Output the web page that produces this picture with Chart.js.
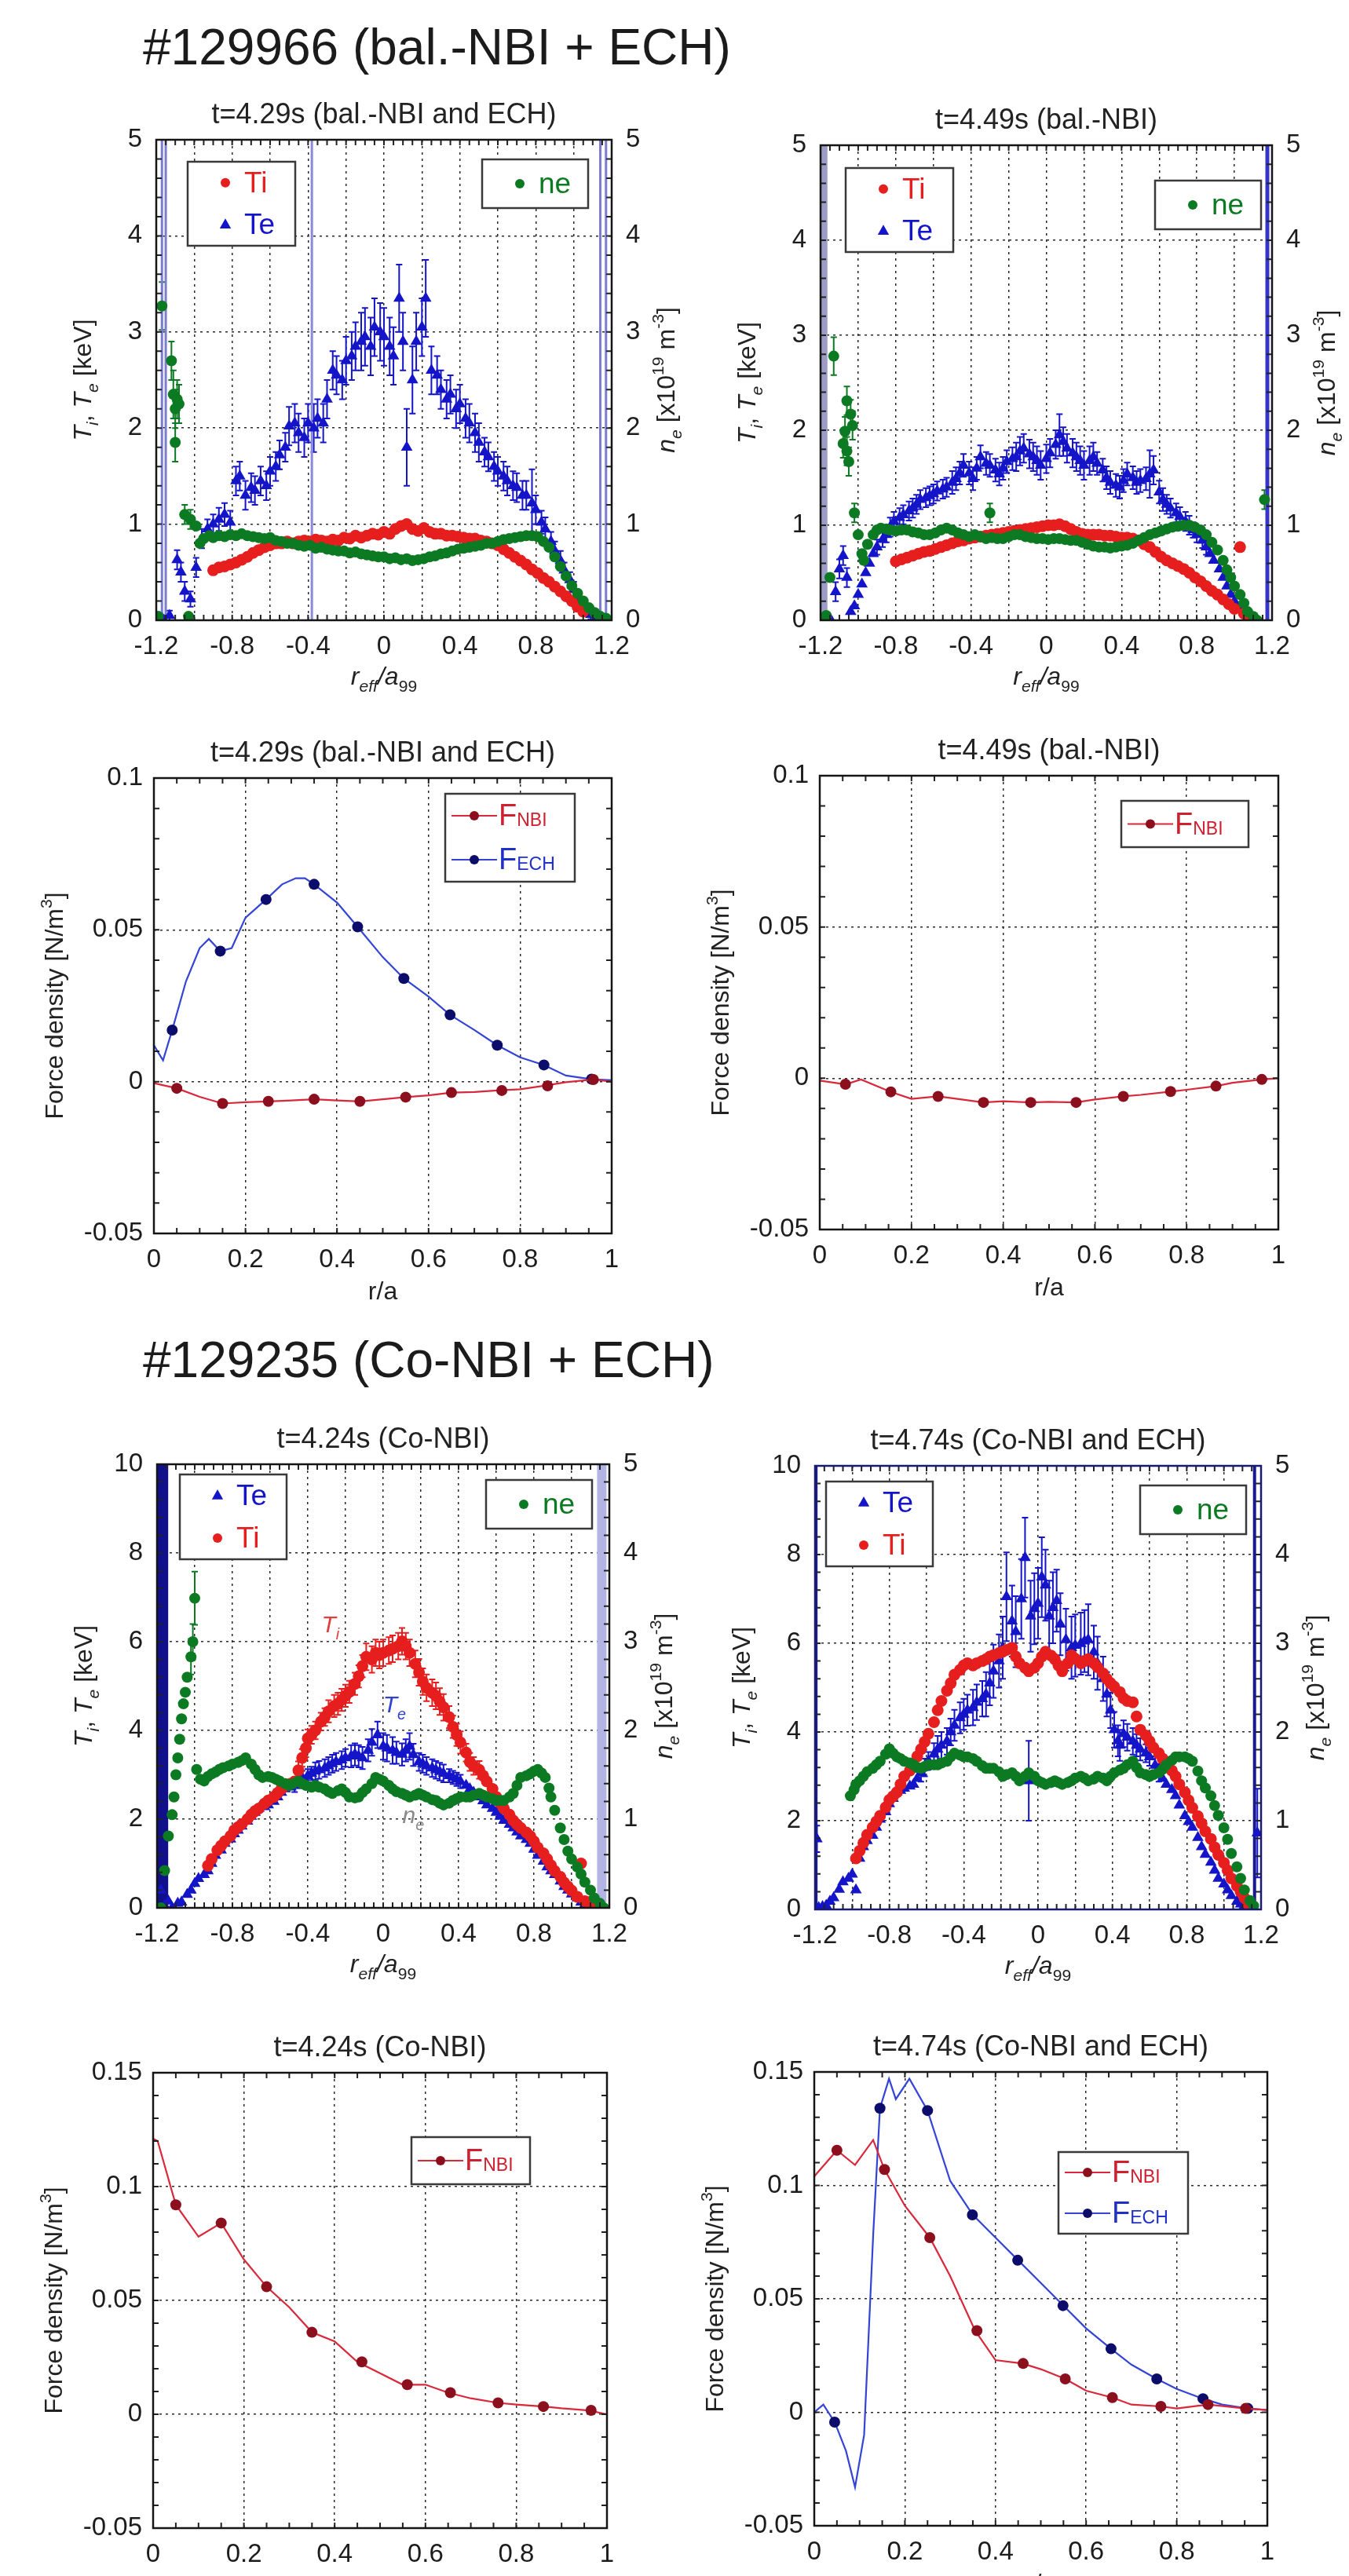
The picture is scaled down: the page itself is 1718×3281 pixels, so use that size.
<!DOCTYPE html>
<html>
<head>
<meta charset="utf-8">
<script src="https://cdn.jsdelivr.net/npm/chart.js@4.4.0/dist/chart.umd.min.js"></script>
<style>
  body { margin: 0; background: #fff; width: 1718px; height: 3281px; position: relative; overflow: hidden;
         font-family: 'Liberation Sans', Arial, Helvetica, sans-serif; }
  .hdr { position: absolute; left: 182px; font-size: 64px; line-height: 1; color: #1b1b1b; white-space: nowrap; }
  canvas { position: absolute; }
</style>
</head>
<body>
<div class="hdr" style="top:28px">#129966 (bal.-NBI + ECH)</div>
<div class="hdr" style="top:1700px">#129235 (Co-NBI + ECH)</div>
<canvas id="p1"></canvas>
<canvas id="p2"></canvas>
<canvas id="p3"></canvas>
<canvas id="p4"></canvas>
<canvas id="p5"></canvas>
<canvas id="p6"></canvas>
<canvas id="p7"></canvas>
<canvas id="p8"></canvas>
<script>
// ---- data: profiles are [r_eff/a99, value, error] ----
// t=4.29s (bal.-NBI and ECH)
const p1Te = [[-1.18,0.02,0.05],[-1.16,0.0,0.05],[-1.13,0.05,0.05],[-1.09,0.63,0.1],[-1.07,0.5,0.1],[-1.05,0.3,0.1],[-1.02,0.22,0.08],[-0.99,0.55,0.1],[-0.96,0.85,0.1],[-0.93,0.95,0.1],[-0.9,1.0,0.1],[-0.87,1.05,0.12],[-0.84,1.1,0.12],[-0.81,1.02,0.12],[-0.78,1.45,0.15],[-0.76,1.5,0.15],[-0.73,1.3,0.15],[-0.7,1.38,0.15],[-0.68,1.35,0.15],[-0.65,1.45,0.15],[-0.62,1.4,0.15],[-0.6,1.55,0.15],[-0.57,1.6,0.15],[-0.55,1.72,0.15],[-0.52,1.8,0.15],[-0.5,2.02,0.2],[-0.47,2.05,0.2],[-0.45,1.95,0.2],[-0.42,1.9,0.2],[-0.4,2.05,0.2],[-0.37,2.0,0.25],[-0.35,2.1,0.2],[-0.32,2.05,0.2],[-0.3,2.3,0.2],[-0.27,2.6,0.2],[-0.25,2.55,0.2],[-0.22,2.5,0.2],[-0.2,2.7,0.25],[-0.17,2.75,0.25],[-0.15,2.85,0.25],[-0.12,2.9,0.3],[-0.1,2.95,0.3],[-0.07,2.85,0.3],[-0.05,3.05,0.3],[-0.02,3.0,0.3],[0.0,2.95,0.3],[0.03,2.85,0.3],[0.05,2.75,0.3],[0.08,3.35,0.35],[0.1,2.9,0.3],[0.12,1.8,0.4],[0.15,2.5,0.35],[0.17,2.9,0.3],[0.2,3.05,0.3],[0.22,3.35,0.4],[0.25,2.6,0.25],[0.28,2.55,0.2],[0.3,2.4,0.2],[0.33,2.3,0.2],[0.35,2.35,0.2],[0.38,2.2,0.2],[0.4,2.25,0.2],[0.43,2.1,0.2],[0.45,2.05,0.2],[0.48,1.95,0.2],[0.5,1.85,0.2],[0.53,1.75,0.15],[0.55,1.7,0.15],[0.58,1.6,0.15],[0.6,1.55,0.15],[0.63,1.5,0.15],[0.65,1.45,0.15],[0.68,1.4,0.15],[0.7,1.38,0.15],[0.73,1.3,0.15],[0.75,1.3,0.15],[0.78,1.22,0.35],[0.8,1.15,0.15],[0.83,1.02,0.12],[0.85,0.95,0.12],[0.88,0.82,0.1],[0.9,0.72,0.1],[0.93,0.62,0.1],[0.95,0.52,0.08],[0.98,0.42,0.08],[1.0,0.32,0.08],[1.03,0.22,0.06],[1.06,0.13,0.05],[1.09,0.06,0.05],[1.12,0.02,0.04],[1.15,0.0,0.04]];
const p1Ti = [[-0.9,0.52],[-0.87,0.55],[-0.84,0.56],[-0.81,0.58],[-0.78,0.6],[-0.75,0.63],[-0.72,0.66],[-0.69,0.7],[-0.66,0.73],[-0.63,0.76],[-0.6,0.78],[-0.57,0.8],[-0.54,0.8],[-0.51,0.82],[-0.48,0.8],[-0.45,0.82],[-0.42,0.83],[-0.39,0.82],[-0.36,0.84],[-0.33,0.83],[-0.3,0.82],[-0.27,0.84],[-0.24,0.83],[-0.21,0.86],[-0.18,0.85],[-0.15,0.88],[-0.12,0.86],[-0.09,0.88],[-0.06,0.9],[-0.03,0.89],[0,0.92],[0.03,0.9],[0.06,0.95],[0.09,0.98],[0.12,1.0],[0.15,0.95],[0.18,0.93],[0.21,0.96],[0.24,0.92],[0.27,0.9],[0.3,0.9],[0.33,0.88],[0.36,0.88],[0.39,0.87],[0.42,0.86],[0.45,0.85],[0.48,0.85],[0.51,0.83],[0.54,0.82],[0.57,0.8],[0.6,0.78],[0.63,0.74],[0.66,0.7],[0.69,0.66],[0.72,0.62],[0.75,0.58],[0.78,0.53],[0.81,0.49],[0.84,0.44],[0.87,0.4],[0.9,0.35],[0.93,0.3],[0.96,0.25],[0.99,0.2],[1.02,0.14],[1.05,0.09]];
const p1Ne = [[-1.19,0.04],[-1.17,3.27,0.25],[-1.12,2.7,0.2],[-1.11,2.35,0.25],[-1.1,2.2,0.2],[-1.09,2.3,0.2],[-1.1,1.85,0.2],[-1.08,2.25,0.2],[-1.05,1.1,0.1],[-1.03,0.04],[-1.02,1.05,0.1],[-0.99,0.98],[-0.97,0.8],[-0.95,0.85],[-0.92,0.88],[-0.9,0.86],[-0.87,0.88],[-0.84,0.87],[-0.81,0.89],[-0.78,0.88],[-0.75,0.9],[-0.72,0.88],[-0.69,0.87],[-0.66,0.86],[-0.63,0.85],[-0.6,0.86],[-0.57,0.83],[-0.54,0.82],[-0.51,0.8],[-0.48,0.8],[-0.45,0.78],[-0.42,0.77],[-0.39,0.78],[-0.36,0.75],[-0.33,0.76],[-0.3,0.74],[-0.27,0.73],[-0.24,0.72],[-0.21,0.72],[-0.18,0.7],[-0.15,0.71],[-0.12,0.69],[-0.09,0.68],[-0.06,0.67],[-0.03,0.66],[0,0.66],[0.03,0.64],[0.06,0.65],[0.09,0.63],[0.12,0.64],[0.15,0.62],[0.18,0.63],[0.21,0.64],[0.24,0.66],[0.27,0.67],[0.3,0.69],[0.33,0.7],[0.36,0.72],[0.39,0.74],[0.42,0.75],[0.45,0.76],[0.48,0.77],[0.51,0.78],[0.54,0.8],[0.57,0.8],[0.6,0.82],[0.63,0.84],[0.66,0.85],[0.69,0.86],[0.72,0.87],[0.75,0.88],[0.78,0.88],[0.81,0.87],[0.84,0.82],[0.87,0.76],[0.9,0.66],[0.93,0.56],[0.96,0.46],[0.99,0.36],[1.02,0.28],[1.05,0.2],[1.08,0.13],[1.11,0.08],[1.14,0.04],[1.17,0.02]];
const p1Lines = [-1.17, -1.15, -0.38, 1.14, 1.17];

// t=4.49s (bal.-NBI)
const p2Te = [[-1.18,0],[-1.15,0.02],[-1.12,0.3,0.1],[-1.1,0.54,0.1],[-1.08,0.68,0.1],[-1.06,0.45,0.1],[-1.04,0.09],[-1.02,0.15],[-1.0,0.27],[-0.98,0.38],[-0.96,0.5],[-0.94,0.6],[-0.92,0.7],[-0.9,0.77,0.08],[-0.87,0.85,0.08],[-0.85,0.9,0.08],[-0.83,0.98,0.1],[-0.81,1.04,0.1],[-0.78,1.08,0.1],[-0.76,1.11,0.1],[-0.73,1.15,0.1],[-0.71,1.18,0.1],[-0.69,1.22,0.1],[-0.67,1.27,0.1],[-0.64,1.29,0.1],[-0.62,1.31,0.1],[-0.6,1.33,0.1],[-0.58,1.36,0.1],[-0.55,1.38,0.1],[-0.53,1.4,0.1],[-0.5,1.45,0.12],[-0.48,1.49,0.12],[-0.46,1.55,0.12],[-0.44,1.63,0.12],[-0.41,1.55,0.12],[-0.39,1.49,0.12],[-0.37,1.6,0.12],[-0.35,1.72,0.12],[-0.32,1.65,0.12],[-0.3,1.63,0.12],[-0.27,1.58,0.12],[-0.25,1.54,0.12],[-0.23,1.6,0.12],[-0.21,1.67,0.12],[-0.18,1.7,0.12],[-0.16,1.72,0.15],[-0.14,1.78,0.15],[-0.12,1.81,0.15],[-0.09,1.75,0.15],[-0.07,1.72,0.15],[-0.05,1.68,0.15],[-0.03,1.63,0.15],[0.0,1.7,0.15],[0.02,1.76,0.15],[0.05,1.85,0.15],[0.07,1.95,0.22],[0.09,1.88,0.15],[0.11,1.81,0.15],[0.14,1.76,0.15],[0.16,1.72,0.15],[0.18,1.68,0.15],[0.2,1.63,0.15],[0.23,1.68,0.15],[0.25,1.72,0.15],[0.27,1.65,0.12],[0.3,1.58,0.12],[0.32,1.5,0.12],[0.34,1.45,0.12],[0.37,1.42,0.12],[0.39,1.4,0.12],[0.41,1.47,0.12],[0.43,1.54,0.12],[0.46,1.5,0.12],[0.48,1.45,0.12],[0.5,1.47,0.12],[0.53,1.49,0.12],[0.55,1.54,0.25],[0.57,1.58,0.15],[0.6,1.35,0.12],[0.62,1.27,0.12],[0.64,1.22,0.1],[0.66,1.18,0.1],[0.69,1.13,0.1],[0.71,1.09,0.1],[0.74,1.04,0.1],[0.76,1.0,0.1],[0.78,0.95,0.08],[0.8,0.9,0.08],[0.83,0.84,0.08],[0.85,0.77,0.08],[0.87,0.7],[0.89,0.63],[0.92,0.54],[0.94,0.45],[0.96,0.36],[0.98,0.27],[1.0,0.2],[1.03,0.14],[1.05,0.09],[1.07,0.05],[1.1,0.02],[1.12,0]];
const p2Ti = [[-0.8,0.62],[-0.77,0.64],[-0.74,0.66],[-0.71,0.68],[-0.68,0.7],[-0.65,0.72],[-0.62,0.73],[-0.59,0.75],[-0.56,0.77],[-0.53,0.79],[-0.5,0.81],[-0.47,0.83],[-0.44,0.84],[-0.41,0.86],[-0.38,0.87],[-0.35,0.88],[-0.32,0.89],[-0.29,0.9],[-0.26,0.91],[-0.23,0.92],[-0.2,0.93],[-0.17,0.94],[-0.14,0.95],[-0.11,0.96],[-0.08,0.97],[-0.05,0.98],[-0.02,0.99],[0.01,1.0],[0.04,1.0],[0.07,1.01],[0.1,0.99],[0.13,0.96],[0.16,0.93],[0.19,0.91],[0.22,0.9],[0.25,0.9],[0.28,0.9],[0.31,0.89],[0.34,0.89],[0.37,0.88],[0.4,0.87],[0.43,0.87],[0.46,0.86],[0.49,0.84],[0.52,0.8],[0.55,0.77],[0.58,0.72],[0.61,0.67],[0.64,0.63],[0.67,0.6],[0.7,0.57],[0.73,0.54],[0.76,0.5],[0.79,0.45],[0.82,0.41],[0.85,0.36],[0.88,0.31],[0.91,0.27],[0.94,0.22],[0.97,0.17],[1.0,0.12],[1.03,0.77],[1.05,0.07],[1.08,0.03]];
const p2Ne = [[-1.17,0.05],[-1.15,0.45],[-1.13,2.78,0.2],[-1.08,1.86,0.15],[-1.07,1.99,0.15],[-1.06,2.31,0.15],[-1.05,1.67,0.15],[-1.04,2.17,0.15],[-1.06,1.78,0.15],[-1.03,2.05,0.15],[-1.02,1.13,0.1],[-1.0,0.9],[-0.98,0.7],[-0.97,0.63],[-0.95,0.8],[-0.92,0.9],[-0.9,0.95],[-0.88,0.97],[-0.85,0.96],[-0.83,0.95],[-0.8,0.94],[-0.77,0.95],[-0.74,0.95],[-0.71,0.93],[-0.68,0.92],[-0.65,0.9],[-0.62,0.9],[-0.59,0.92],[-0.56,0.95],[-0.53,0.97],[-0.5,0.95],[-0.47,0.92],[-0.44,0.9],[-0.41,0.88],[-0.38,0.9],[-0.3,1.13,0.1],[-0.35,0.88],[-0.32,0.86],[-0.29,0.87],[-0.26,0.86],[-0.23,0.86],[-0.2,0.88],[-0.17,0.9],[-0.14,0.9],[-0.11,0.88],[-0.08,0.87],[-0.05,0.86],[-0.02,0.86],[0.01,0.85],[0.04,0.86],[0.07,0.86],[0.1,0.85],[0.13,0.84],[0.16,0.84],[0.19,0.82],[0.22,0.8],[0.25,0.78],[0.28,0.77],[0.31,0.77],[0.34,0.76],[0.37,0.77],[0.4,0.78],[0.43,0.79],[0.46,0.81],[0.49,0.84],[0.52,0.87],[0.55,0.9],[0.58,0.92],[0.61,0.94],[0.64,0.96],[0.67,0.98],[0.7,0.99],[0.73,1.0],[0.76,1.0],[0.79,0.98],[0.82,0.95],[0.85,0.9],[0.88,0.82],[0.91,0.74],[0.94,0.63],[0.96,0.53],[0.98,0.45],[1.0,0.36],[1.03,0.27],[1.05,0.18],[1.07,0.09],[1.1,0.04],[1.12,0],[1.16,1.27,0.1]];
const p2Lines = [-1.18, 1.175];

// t=4.24s (Co-NBI)
const p5Te = [[-1.18,0.4],[-1.16,0.05],[-1.14,0.15],[-1.12,0],[-1.09,0.1],[-1.07,0.13],[-1.04,0.3],[-1.02,0.4],[-1.0,0.55],[-0.98,0.66],[-0.95,0.75],[-0.93,0.83],[-0.91,1.0],[-0.89,1.18],[-0.86,1.3],[-0.84,1.45],[-0.81,1.55],[-0.79,1.67],[-0.77,1.75],[-0.75,1.84],[-0.72,1.95],[-0.7,2.06],[-0.68,2.15],[-0.66,2.24],[-0.63,2.28],[-0.61,2.32],[-0.58,2.4],[-0.56,2.5],[-0.54,2.6],[-0.52,2.68],[-0.49,2.72],[-0.47,2.76,0.15],[-0.45,2.85,0.15],[-0.43,2.94,0.15],[-0.4,2.98,0.15],[-0.38,3.03,0.15],[-0.36,3.08,0.2],[-0.34,3.11,0.2],[-0.31,3.15,0.2],[-0.29,3.2,0.2],[-0.27,3.25,0.2],[-0.25,3.29,0.2],[-0.22,3.33,0.2],[-0.2,3.38,0.2],[-0.17,3.42,0.25],[-0.15,3.46,0.25],[-0.13,3.42,0.25],[-0.11,3.38,0.25],[-0.08,3.55,0.25],[-0.06,3.73,0.3],[-0.03,3.9,0.3],[0,3.64,0.3],[0.02,3.6,0.3],[0.05,3.55,0.3],[0.07,3.5,0.25],[0.1,3.46,0.25],[0.12,3.55,0.25],[0.14,3.64,0.3],[0.16,3.45,0.25],[0.19,3.29,0.2],[0.21,3.25,0.2],[0.23,3.2,0.2],[0.26,3.15,0.2],[0.28,3.11,0.2],[0.3,3.07,0.2],[0.32,3.03,0.2],[0.35,2.98,0.15],[0.37,2.94,0.15],[0.39,2.9,0.15],[0.41,2.85,0.15],[0.44,2.76],[0.46,2.68],[0.48,2.6],[0.51,2.5],[0.53,2.41],[0.55,2.32],[0.58,2.24],[0.6,2.15],[0.62,2.06],[0.64,1.97],[0.67,1.88],[0.69,1.8],[0.71,1.71],[0.73,1.62],[0.76,1.54],[0.78,1.45],[0.8,1.32],[0.82,1.18],[0.85,1.05],[0.87,0.92],[0.89,0.83],[0.91,0.75],[0.94,0.6],[0.96,0.48],[0.98,0.4],[1.0,0.31],[1.03,0.22],[1.05,0.13],[1.07,0.08],[1.09,0.04],[1.12,0.02],[1.15,0]];
const p5Ti = [[-0.93,0.95],[-0.91,1.1],[-0.88,1.3],[-0.86,1.4],[-0.84,1.5],[-0.81,1.62],[-0.79,1.75],[-0.77,1.82],[-0.75,1.89],[-0.72,2.0],[-0.7,2.1],[-0.68,2.18],[-0.66,2.24],[-0.63,2.35],[-0.61,2.42],[-0.58,2.5],[-0.56,2.59],[-0.54,2.68],[-0.51,2.76],[-0.49,2.8],[-0.47,2.85],[-0.45,3.1,0.2],[-0.43,3.38,0.2],[-0.41,3.6,0.2],[-0.4,3.82,0.2],[-0.38,3.9,0.2],[-0.36,4.0,0.2],[-0.33,4.2,0.2],[-0.31,4.3,0.2],[-0.29,4.43,0.25],[-0.26,4.55,0.25],[-0.24,4.6,0.25],[-0.22,4.69,0.25],[-0.2,4.78,0.25],[-0.18,4.87,0.25],[-0.15,5.05,0.25],[-0.13,5.22,0.25],[-0.11,5.45,0.25],[-0.09,5.66,0.3],[-0.06,5.6,0.3],[-0.04,5.75,0.3],[-0.02,5.7,0.3],[0,5.75,0.3],[0.03,5.8,0.3],[0.05,5.84,0.3],[0.08,5.9,0.3],[0.1,6.01,0.3],[0.12,5.9,0.3],[0.14,5.75,0.3],[0.17,5.5,0.3],[0.19,5.31,0.3],[0.21,5.1,0.3],[0.23,4.96,0.3],[0.26,4.85,0.3],[0.28,4.78,0.3],[0.3,4.65,0.3],[0.32,4.52,0.3],[0.35,4.3,0.25],[0.37,4.08,0.25],[0.39,3.9,0.25],[0.41,3.73,0.25],[0.44,3.5,0.2],[0.46,3.29,0.2],[0.48,3.2,0.2],[0.51,3.11,0.2],[0.53,2.98],[0.55,2.85],[0.58,2.68],[0.6,2.5],[0.62,2.37],[0.64,2.24],[0.67,2.1],[0.69,1.97],[0.71,1.88],[0.73,1.8],[0.76,1.7],[0.78,1.62],[0.8,1.5],[0.82,1.36],[0.85,1.23],[0.87,1.1],[0.89,0.96],[0.91,0.83],[0.94,0.7],[0.96,0.57],[0.98,0.48],[1.0,0.39],[1.03,0.25],[1.05,1.0],[1.07,0.15],[1.09,0.13],[1.12,0.08],[1.14,0.04]];
const p5Ne = [[-1.18,0.0],[-1.16,0.42],[-1.14,0.81],[-1.12,1.05],[-1.11,1.25],[-1.1,1.5],[-1.09,1.69],[-1.08,1.9],[-1.07,2.13],[-1.06,2.3],[-1.05,2.43],[-1.04,2.6],[-1.02,2.83,0.2],[-1.01,3.0,0.2],[-1.0,3.49,0.3],[-0.99,1.56],[-0.97,1.45],[-0.95,1.43],[-0.93,1.48],[-0.91,1.51],[-0.89,1.53],[-0.87,1.56],[-0.85,1.58],[-0.82,1.6],[-0.8,1.62],[-0.77,1.64],[-0.75,1.66],[-0.73,1.69],[-0.7,1.62],[-0.68,1.56],[-0.66,1.5],[-0.64,1.47],[-0.61,1.48],[-0.59,1.47],[-0.57,1.45],[-0.55,1.43],[-0.52,1.4],[-0.5,1.38],[-0.48,1.4],[-0.45,1.43],[-0.43,1.4],[-0.41,1.38],[-0.38,1.36],[-0.36,1.38],[-0.34,1.36],[-0.31,1.34],[-0.29,1.31],[-0.27,1.29],[-0.24,1.32],[-0.22,1.34],[-0.2,1.3],[-0.18,1.25],[-0.15,1.24],[-0.13,1.25],[-0.11,1.3],[-0.09,1.34],[-0.06,1.4],[-0.04,1.47],[-0.02,1.45],[0,1.43],[0.03,1.38],[0.05,1.34],[0.07,1.31],[0.1,1.29],[0.12,1.27],[0.14,1.25],[0.17,1.27],[0.19,1.29],[0.21,1.27],[0.23,1.25],[0.26,1.22],[0.28,1.21],[0.3,1.18],[0.32,1.16],[0.35,1.18],[0.37,1.21],[0.39,1.23],[0.41,1.25],[0.44,1.25],[0.46,1.25],[0.48,1.27],[0.51,1.29],[0.53,1.27],[0.55,1.25],[0.58,1.23],[0.6,1.21],[0.62,1.21],[0.64,1.21],[0.67,1.25],[0.69,1.29],[0.71,1.38],[0.73,1.47],[0.76,1.49],[0.78,1.51],[0.8,1.54],[0.82,1.56],[0.84,1.52],[0.86,1.47],[0.88,1.35],[0.89,1.25],[0.91,1.1],[0.94,0.9],[0.96,0.77],[0.98,0.64],[1.0,0.55],[1.03,0.46],[1.05,0.38],[1.07,0.29],[1.1,0.2],[1.12,0.11],[1.15,0.05],[1.17,0]];
const p5Lines = [-1.17, 1.16];

// t=4.74s (Co-NBI and ECH)
const p6Te = [[-1.19,1.59,0.3],[-1.18,0.04],[-1.16,0.06],[-1.14,0.09],[-1.12,0.18],[-1.1,0.26],[-1.07,0.45],[-1.05,0.62],[-1.02,0.7],[-1.0,0.79],[-0.98,0.44],[-0.96,1.15],[-0.94,1.41],[-0.92,1.55],[-0.89,1.67],[-0.87,1.85],[-0.85,2.03],[-0.82,2.2],[-0.8,2.38],[-0.78,2.5],[-0.76,2.64],[-0.74,2.68],[-0.72,2.73],[-0.69,2.78],[-0.67,2.82],[-0.65,2.95],[-0.63,3.08,0.2],[-0.61,3.2,0.2],[-0.59,3.35,0.2],[-0.56,3.5,0.25],[-0.54,3.61,0.3],[-0.52,3.7,0.3],[-0.49,3.79,0.3],[-0.47,4.0,0.3],[-0.45,4.15,0.35],[-0.42,4.32,0.35],[-0.4,4.4,0.35],[-0.38,4.49,0.35],[-0.35,4.55,0.4],[-0.33,4.67,0.4],[-0.3,4.75,0.4],[-0.28,4.85,0.5],[-0.26,5.1,0.5],[-0.24,5.37,0.6],[-0.21,5.6,0.6],[-0.19,5.9,0.7],[-0.17,7.05,1.0],[-0.14,6.5,0.8],[-0.12,6.26,0.8],[-0.09,7.0,0.9],[-0.07,7.93,0.9],[-0.05,2.9,0.9],[-0.04,6.61,0.8],[-0.02,6.78,0.8],[0.0,6.9,0.8],[0.02,7.49,0.9],[0.04,7.31,0.8],[0.06,6.61,0.8],[0.08,6.8,0.8],[0.1,6.96,0.7],[0.12,6.43,0.7],[0.15,6.08,0.7],[0.18,5.9,0.7],[0.2,5.95,0.7],[0.23,5.99,0.7],[0.25,6.05,0.7],[0.27,6.08,0.8],[0.3,5.8,0.6],[0.32,5.55,0.6],[0.35,5.2,0.5],[0.37,4.85,0.5],[0.39,4.49,0.4],[0.41,4.05,0.4],[0.43,3.8,0.35],[0.44,3.7,0.35],[0.46,3.96,0.3],[0.48,3.88,0.3],[0.51,3.79,0.3],[0.53,3.7,0.25],[0.55,3.61,0.25],[0.58,3.52,0.2],[0.6,3.44,0.2],[0.63,3.25,0.2],[0.65,3.08,0.2],[0.67,2.95],[0.69,2.82],[0.72,2.7],[0.74,2.56],[0.76,2.35],[0.79,2.11],[0.81,1.98],[0.83,1.85],[0.86,1.62],[0.88,1.41],[0.9,1.24],[0.93,1.06],[0.95,0.88],[0.97,0.7],[1.0,0.57],[1.02,0.44],[1.04,0.31],[1.07,0.18],[1.09,0.12],[1.11,0.09],[1.14,0.04],[1.16,0],[1.18,1.72,1.0]];
const p6Ti = [[-0.98,1.15],[-0.96,1.32],[-0.94,1.5],[-0.92,1.68],[-0.89,1.85],[-0.87,1.98],[-0.85,2.11],[-0.82,2.3],[-0.8,2.47],[-0.78,2.55],[-0.76,2.64],[-0.74,2.82],[-0.72,3.0],[-0.69,3.13],[-0.67,3.26],[-0.65,3.45],[-0.63,3.61],[-0.61,3.78],[-0.59,3.96],[-0.56,4.22],[-0.54,4.49],[-0.52,4.7],[-0.49,4.93],[-0.47,5.1],[-0.45,5.29],[-0.42,5.4],[-0.4,5.5],[-0.38,5.55],[-0.35,5.5],[-0.33,5.55],[-0.3,5.6],[-0.28,5.64],[-0.26,5.7],[-0.24,5.73],[-0.21,5.78],[-0.19,5.81],[-0.17,5.85],[-0.14,5.9],[-0.12,5.7],[-0.1,5.55],[-0.07,5.45],[-0.05,5.37],[-0.02,5.45],[0.0,5.55],[0.02,5.7],[0.04,5.81],[0.07,5.72],[0.09,5.64],[0.11,5.5],[0.13,5.37],[0.16,5.55],[0.18,5.73],[0.2,5.65],[0.23,5.55],[0.25,5.6],[0.27,5.64],[0.3,5.55],[0.32,5.46],[0.35,5.32],[0.37,5.2],[0.39,5.1],[0.41,5.02],[0.44,4.9],[0.46,4.76],[0.48,4.7],[0.51,4.67],[0.53,4.35],[0.55,4.05],[0.58,3.92],[0.6,3.79],[0.62,3.65],[0.65,3.52],[0.67,3.4],[0.69,3.26],[0.72,3.13],[0.74,3.0],[0.76,2.82],[0.79,2.64],[0.81,2.46],[0.83,2.29],[0.86,2.1],[0.88,1.94],[0.9,1.76],[0.93,1.59],[0.95,1.4],[0.97,1.23],[1.0,1.05],[1.02,0.88],[1.04,0.7],[1.07,0.53],[1.09,0.4],[1.11,0.26],[1.13,0.12],[1.15,0]];
const p6Ne = [[-1.01,1.28],[-0.99,1.35],[-0.98,1.41],[-0.96,1.45],[-0.94,1.5],[-0.92,1.55],[-0.89,1.59],[-0.87,1.63],[-0.85,1.67],[-0.82,1.75],[-0.8,1.81],[-0.78,1.76],[-0.76,1.72],[-0.74,1.7],[-0.72,1.67],[-0.69,1.65],[-0.67,1.63],[-0.65,1.6],[-0.63,1.59],[-0.61,1.61],[-0.59,1.63],[-0.56,1.63],[-0.54,1.63],[-0.52,1.65],[-0.49,1.67],[-0.47,1.72],[-0.45,1.76],[-0.42,1.74],[-0.4,1.72],[-0.38,1.72],[-0.35,1.7],[-0.33,1.67],[-0.3,1.62],[-0.28,1.59],[-0.26,1.59],[-0.24,1.59],[-0.21,1.55],[-0.19,1.5],[-0.17,1.52],[-0.14,1.54],[-0.12,1.5],[-0.1,1.45],[-0.07,1.5],[-0.05,1.54],[-0.02,1.5],[0.0,1.45],[0.02,1.43],[0.04,1.41],[0.07,1.43],[0.09,1.45],[0.11,1.43],[0.13,1.41],[0.16,1.43],[0.18,1.45],[0.2,1.48],[0.23,1.5],[0.25,1.48],[0.27,1.45],[0.3,1.47],[0.32,1.5],[0.35,1.48],[0.37,1.45],[0.39,1.5],[0.41,1.54],[0.44,1.57],[0.46,1.59],[0.48,1.63],[0.51,1.67],[0.53,1.6],[0.55,1.54],[0.58,1.52],[0.6,1.5],[0.62,1.52],[0.65,1.54],[0.67,1.58],[0.69,1.63],[0.72,1.68],[0.74,1.72],[0.76,1.72],[0.79,1.72],[0.81,1.7],[0.83,1.67],[0.86,1.56],[0.88,1.45],[0.9,1.37],[0.93,1.28],[0.95,1.17],[0.97,1.06],[1.0,0.92],[1.02,0.79],[1.04,0.63],[1.07,0.48],[1.09,0.35],[1.11,0.22],[1.14,0.1],[1.16,0.04]];
const p6Lines = [-1.195, 1.165];

// ---- force density profiles, [r/a, N/m^3] ----
const p3EchLine = [[0,0.012],[0.02,0.007],[0.04,0.017],[0.07,0.033],[0.1,0.044],[0.12,0.047],[0.145,0.043],[0.17,0.044],[0.2,0.054],[0.245,0.06],[0.28,0.065],[0.31,0.067],[0.33,0.067],[0.35,0.065],[0.4,0.059],[0.445,0.051],[0.5,0.041],[0.546,0.034],[0.6,0.028],[0.647,0.022],[0.7,0.017],[0.75,0.012],[0.8,0.008],[0.852,0.0055],[0.9,0.002],[0.956,0.0008],[1.0,0.0005]];
const p3EchMarks = [[0.04,0.017],[0.145,0.043],[0.245,0.06],[0.35,0.065],[0.445,0.051],[0.546,0.034],[0.647,0.022],[0.75,0.012],[0.852,0.0055],[0.956,0.0008]];
const p3NbiLine = [[0,-0.0005],[0.05,-0.0022],[0.1,-0.005],[0.15,-0.0072],[0.2,-0.0068],[0.25,-0.0065],[0.3,-0.0062],[0.35,-0.0058],[0.4,-0.0062],[0.45,-0.0065],[0.5,-0.0058],[0.55,-0.0051],[0.6,-0.0045],[0.65,-0.0036],[0.7,-0.0034],[0.75,-0.0029],[0.8,-0.0025],[0.85,-0.0014],[0.9,-0.0002],[0.96,0.0007],[1.0,0.0]];
const p3NbiMarks = [[0.05,-0.0022],[0.15,-0.0072],[0.25,-0.0065],[0.35,-0.0058],[0.45,-0.0065],[0.55,-0.0051],[0.65,-0.0036],[0.76,-0.0029],[0.86,-0.0014],[0.96,0.0007]];

const p4NbiLine = [[0,-0.0008],[0.056,-0.002],[0.09,-0.0004],[0.155,-0.0045],[0.2,-0.0068],[0.258,-0.006],[0.3,-0.0068],[0.357,-0.008],[0.4,-0.0076],[0.46,-0.008],[0.5,-0.0078],[0.559,-0.008],[0.6,-0.007],[0.662,-0.006],[0.7,-0.0055],[0.765,-0.0044],[0.8,-0.0038],[0.864,-0.0026],[0.9,-0.0015],[0.964,-0.0004],[1.0,0.0]];
const p4NbiMarks = [[0.056,-0.002],[0.155,-0.0045],[0.258,-0.006],[0.357,-0.008],[0.46,-0.008],[0.559,-0.008],[0.662,-0.006],[0.765,-0.0044],[0.864,-0.0026],[0.964,-0.0004]];

const p7NbiLine = [[0,0.121],[0.01,0.12],[0.05,0.092],[0.1,0.078],[0.15,0.084],[0.2,0.068],[0.25,0.056],[0.3,0.047],[0.35,0.036],[0.4,0.032],[0.45,0.023],[0.5,0.018],[0.55,0.013],[0.6,0.013],[0.65,0.0095],[0.7,0.007],[0.76,0.005],[0.8,0.0043],[0.86,0.0034],[0.9,0.0026],[0.96,0.0017],[1.0,0.0]];
const p7NbiMarks = [[0.05,0.092],[0.15,0.084],[0.25,0.056],[0.35,0.036],[0.46,0.023],[0.56,0.013],[0.655,0.0095],[0.76,0.005],[0.86,0.0034],[0.965,0.0017]];

const p8NbiLine = [[0,0.104],[0.05,0.1155],[0.09,0.109],[0.13,0.12],[0.155,0.107],[0.2,0.091],[0.255,0.077],[0.3,0.06],[0.355,0.036],[0.4,0.023],[0.46,0.0215],[0.5,0.019],[0.554,0.0147],[0.6,0.0095],[0.658,0.0065],[0.7,0.0034],[0.765,0.0026],[0.8,0.0017],[0.869,0.0034],[0.952,0.0017],[1.0,0.001]];
const p8NbiMarks = [[0.05,0.1155],[0.155,0.107],[0.255,0.077],[0.359,0.036],[0.461,0.0215],[0.554,0.0147],[0.658,0.0065],[0.765,0.0026],[0.869,0.0034],[0.952,0.0017]];
const p8EchLine = [[0,0],[0.02,0.0034],[0.045,-0.0043],[0.07,-0.017],[0.09,-0.033],[0.11,-0.01],[0.13,0.078],[0.145,0.134],[0.165,0.147],[0.18,0.138],[0.21,0.147],[0.25,0.133],[0.3,0.102],[0.35,0.087],[0.4,0.077],[0.45,0.067],[0.5,0.057],[0.55,0.047],[0.6,0.037],[0.655,0.028],[0.7,0.021],[0.756,0.0147],[0.8,0.0103],[0.858,0.006],[0.9,0.0034],[0.957,0.0017],[1.0,0.001]];
const p8EchMarks = [[0.045,-0.0043],[0.145,0.134],[0.25,0.133],[0.349,0.087],[0.449,0.067],[0.549,0.047],[0.655,0.028],[0.756,0.0147],[0.858,0.006],[0.957,0.0017]];

// ---- styling ----
const FONT = "'Liberation Sans', Arial, Helvetica, sans-serif";
const TE_C = '#1414c8', TI_C = '#e61e1e', NE_C = '#0c7a22';
const NBI_LINE = '#d8283a', NBI_MARK = '#8c0f1e', ECH_LINE = '#3344d6', ECH_MARK = '#0c0c6a';
Chart.defaults.font.family = FONT;
Chart.defaults.color = '#1c1c1c';

const tiLabel = [['T', 'i'], ['i', 'isub'], [', ', 'n'], ['T', 'i'], ['e', 'isub'], [' [keV]', 'n']];
const neLabel = [['n', 'i'], ['e', 'isub'], [' [x10', 'n'], ['19', 'sup'], [' m', 'n'], ['-3', 'sup'], [']', 'n']];
const rLabel = [['r', 'i'], ['eff', 'isub'], ['/a', 'i'], ['99', 'sub']];
const fLabel = [['Force density [N/m', 'n'], ['3', 'sup'], [']', 'n']];

function drawRich(ctx, parts, x, y, size, color, rot) {
  ctx.save();
  ctx.translate(x, y);
  if (rot) ctx.rotate(rot);
  const spec = parts.map(([t, s]) => {
    const small = s === 'sub' || s === 'sup' || s === 'isub';
    const sz = small ? size * 0.66 : s === 'sc' ? size * 0.68 : size;
    const it = s === 'i' || s === 'isub';
    const dy = (s === 'sub' || s === 'isub') ? size * 0.3 : s === 'sup' ? -size * 0.42 : 0;
    return { t, font: (it ? 'italic ' : '') + sz + 'px ' + FONT, dy };
  });
  let w = 0;
  spec.forEach(p => { ctx.font = p.font; p.w = ctx.measureText(p.t).width; w += p.w; });
  let cx = -w / 2;
  ctx.fillStyle = color;
  ctx.textAlign = 'left';
  ctx.textBaseline = 'alphabetic';
  spec.forEach(p => { ctx.font = p.font; ctx.fillText(p.t, cx, size * 0.36 + p.dy); cx += p.w; });
  ctx.restore();
}

function drawMarker(ctx, kind, x, y, r, color) {
  ctx.fillStyle = color;
  ctx.beginPath();
  if (kind === 'tri') {
    ctx.moveTo(x, y - r); ctx.lineTo(x + r * 0.9, y + r * 0.6); ctx.lineTo(x - r * 0.9, y + r * 0.6);
  } else {
    ctx.arc(x, y, r, 0, Math.PI * 2);
  }
  ctx.fill();
}

function drawLegend(ctx, a, lg) {
  const x = lg.side === 'right' ? a.right - lg.dx - lg.w : a.left + lg.dx;
  const y = a.top + lg.dy;
  ctx.save();
  ctx.fillStyle = '#fff';
  ctx.fillRect(x, y, lg.w, lg.h);
  ctx.strokeStyle = '#3a3a3a';
  ctx.lineWidth = 2.5;
  ctx.strokeRect(x, y, lg.w, lg.h);
  const rowH = lg.h / lg.items.length;
  lg.items.forEach((it, i) => {
    const cy = y + rowH * (i + 0.5);
    if (it.line) {
      ctx.strokeStyle = it.line; ctx.lineWidth = 2;
      ctx.beginPath(); ctx.moveTo(x + 8, cy); ctx.lineTo(x + 66, cy); ctx.stroke();
      drawMarker(ctx, 'dot', x + 37, cy, 6, it.color);
      ctx.font = '38px ' + FONT; ctx.fillStyle = it.textColor; ctx.textBaseline = 'middle';
      ctx.fillText('F', x + 68, cy + 2);
      const fw = ctx.measureText('F').width;
      ctx.font = '23px ' + FONT;
      ctx.fillText(it.text, x + 68 + fw, cy + 7);
    } else {
      drawMarker(ctx, it.kind, x + 48, cy, it.kind === 'tri' ? 8 : 6, it.color);
      ctx.font = '37px ' + FONT; ctx.fillStyle = it.color; ctx.textBaseline = 'middle';
      ctx.fillText(it.text, x + 72, cy + 2);
    }
  });
  ctx.restore();
}

const panelPlugin = {
  id: 'panel',
  beforeDatasetsDraw(chart) {
    const ctx = chart.ctx, a = chart.chartArea;
    ctx.save();
    ctx.beginPath(); ctx.rect(a.left, a.top, a.right - a.left, a.bottom - a.top); ctx.clip();
    chart.data.datasets.forEach(ds => {
      if (!ds.errs) return;
      const xs = chart.scales.x, ys = chart.scales[ds.yAxisID || 'y'];
      ctx.strokeStyle = ds.backgroundColor;
      ctx.lineWidth = 2;
      ds.data.forEach((p, i) => {
        const e = ds.errs[i];
        if (!e) return;
        const px = xs.getPixelForValue(p.x);
        const y1 = ys.getPixelForValue(p.y - e), y2 = ys.getPixelForValue(p.y + e);
        ctx.beginPath();
        ctx.moveTo(px, y1); ctx.lineTo(px, y2);
        ctx.moveTo(px - 4, y1); ctx.lineTo(px + 4, y1);
        ctx.moveTo(px - 4, y2); ctx.lineTo(px + 4, y2);
        ctx.stroke();
      });
    });
    ctx.restore();
  },
  afterDraw(chart, args, o) {
    const ctx = chart.ctx, a = chart.chartArea;
    const xs = chart.scales.x, ys = chart.scales.y;
    ctx.save();
    // minor ticks on all four sides
    ctx.strokeStyle = '#222';
    ctx.lineWidth = 2;
    ctx.beginPath();
    for (let v = xs.min; v <= xs.max + 1e-9; v += o.minorX) {
      const px = xs.getPixelForValue(v);
      ctx.moveTo(px, a.bottom); ctx.lineTo(px, a.bottom - 7);
      ctx.moveTo(px, a.top); ctx.lineTo(px, a.top + 7);
    }
    for (let v = ys.min; v <= ys.max + 1e-9; v += o.minorY) {
      const py = ys.getPixelForValue(v);
      ctx.moveTo(a.left, py); ctx.lineTo(a.left + 7, py);
      ctx.moveTo(a.right, py); ctx.lineTo(a.right - 7, py);
    }
    ctx.stroke();
    ctx.lineWidth = 2.5;
    ctx.strokeStyle = o.frameColor || '#151515';
    ctx.strokeRect(a.left, a.top, a.right - a.left, a.bottom - a.top);
    ctx.restore();

    const cx = (a.left + a.right) / 2, cy = (a.top + a.bottom) / 2;
    drawRich(ctx, [[o.title, 'n']], cx, a.top - 34, 36, '#222');
    drawRich(ctx, o.yTitle, a.left - o.yTitleOff, cy, 32, '#222', -Math.PI / 2);
    if (o.y2Title) drawRich(ctx, o.y2Title, a.right + o.y2TitleOff, cy, 32, '#222', -Math.PI / 2);
    drawRich(ctx, o.xTitle, cx, a.bottom + o.xTitleOff, 32, '#222');
    (o.legends || []).forEach(lg => drawLegend(ctx, a, lg));
    (o.notes || []).forEach(n => {
      drawRich(ctx, n.parts, xs.getPixelForValue(n.x), ys.getPixelForValue(n.y), 30, n.color);
    });
  }
};
Chart.register(panelPlugin);

function fmt(v) { return String(Math.round(v * 100) / 100); }

function place(id, rect, pad) {
  const cv = document.getElementById(id);
  cv.style.left = (rect.l - pad.l) + 'px';
  cv.style.top = (rect.t - pad.t) + 'px';
  cv.width = rect.r - rect.l + pad.l + pad.r;
  cv.height = rect.b - rect.t + pad.t + pad.b;
  return cv;
}

function pts(arr) { return arr.map(p => ({ x: p[0], y: p[1] })); }
function errsOf(arr) { return arr.map(p => p[2] || 0); }

function scatterSet(arr, axis, style, r, color) {
  return { data: pts(arr), errs: errsOf(arr), yAxisID: axis, showLine: false, pointStyle: style,
           pointRadius: r, pointBorderWidth: 0, backgroundColor: color, borderColor: color };
}

function gridOpts() {
  return { color: '#2a2a2a', lineWidth: 1.5, drawTicks: false };
}

function makeProfile(id, rect, c) {
  const pad = { l: 110, r: 110, t: 60, b: 100 };
  const cv = place(id, rect, pad);
  const sets = [
    scatterSet(c.ne, 'y2', 'circle', 7, NE_C),
    scatterSet(c.ti, 'y', 'circle', 7.5, TI_C),
    scatterSet(c.te, 'y', 'triangle', 8.5, TE_C)
  ];
  c.lines.forEach((v, i) => sets.push({
    data: [{ x: v, y: 0 }, { x: v, y: c.tMax }], yAxisID: 'y', showLine: true, pointRadius: 0,
    borderColor: c.lineColors[i], borderWidth: c.lineWidths[i]
  }));
  new Chart(cv, {
    type: 'scatter',
    data: { datasets: sets },
    options: {
      responsive: false, animation: false, events: [],
      layout: { padding: { top: pad.t, left: 0, right: 0, bottom: 0 } },
      plugins: {
        legend: { display: false }, tooltip: { enabled: false },
        panel: {
          title: c.title, yTitle: tiLabel, yTitleOff: 95, y2Title: neLabel, y2TitleOff: 68,
          xTitle: rLabel, xTitleOff: 70, minorX: 0.05, minorY: c.tMax / 25,
          legends: c.legends, notes: c.notes, frameColor: c.frameColor
        }
      },
      scales: {
        x: {
          type: 'linear', min: -1.2, max: 1.2, afterFit: s => { s.height = pad.b; },
          ticks: { stepSize: 0.2, autoSkip: false, maxRotation: 0, padding: 14, font: { size: 33 },
                   callback: v => Math.abs(Math.round(v * 10)) % 4 === 0 ? fmt(v) : '' },
          grid: gridOpts(), border: { display: false, dash: [3, 5] }
        },
        y: {
          position: 'left', min: 0, max: c.tMax, afterFit: s => { s.width = pad.l; },
          ticks: { stepSize: c.tMax / 5, padding: 18, font: { size: 33 }, callback: fmt },
          grid: gridOpts(), border: { display: false, dash: [3, 5] }
        },
        y2: {
          position: 'right', min: 0, max: 5, afterFit: s => { s.width = pad.r; },
          ticks: { stepSize: 1, padding: 18, font: { size: 33 }, callback: fmt },
          grid: { drawOnChartArea: false, drawTicks: false }, border: { display: false }
        }
      }
    }
  });
}

function makeForce(id, rect, c) {
  const pad = { l: 150, r: 30, t: 60, b: 100 };
  const cv = place(id, rect, pad);
  const sets = [];
  c.series.forEach(s => {
    sets.push({ data: pts(s.marks), showLine: false, pointStyle: 'circle', pointRadius: 7,
                pointBorderWidth: 0, backgroundColor: s.markColor, borderColor: s.markColor });
    sets.push({ data: pts(s.line), showLine: true, pointRadius: 0, borderWidth: 2.2,
                borderColor: s.lineColor, backgroundColor: s.lineColor, tension: 0 });
  });
  new Chart(cv, {
    type: 'scatter',
    data: { datasets: sets },
    options: {
      responsive: false, animation: false, events: [],
      layout: { padding: { top: pad.t, left: 0, right: pad.r, bottom: 0 } },
      plugins: {
        legend: { display: false }, tooltip: { enabled: false },
        panel: {
          title: c.title, yTitle: fLabel, yTitleOff: 128, xTitle: [['r/a', 'n']], xTitleOff: 72,
          minorX: 0.05, minorY: 0.01, legends: [c.legend]
        }
      },
      scales: {
        x: {
          type: 'linear', min: 0, max: 1, afterFit: s => { s.height = pad.b; },
          ticks: { stepSize: 0.2, autoSkip: false, maxRotation: 0, padding: 14, font: { size: 33 }, callback: fmt },
          grid: gridOpts(), border: { display: false, dash: [3, 5] }
        },
        y: {
          position: 'left', min: -0.05, max: c.yMax, afterFit: s => { s.width = pad.l; },
          ticks: { stepSize: 0.05, padding: 14, font: { size: 33 }, callback: fmt },
          grid: gridOpts(), border: { display: false, dash: [3, 5] }
        }
      }
    }
  });
}

const legTiTe = (dx, dy) => ({ side: 'left', dx, dy, w: 137, h: 107, items: [
  { kind: 'dot', color: TI_C, text: 'Ti' }, { kind: 'tri', color: TE_C, text: 'Te' }] });
const legTeTi = (dx, dy) => ({ side: 'left', dx, dy, w: 136, h: 108, items: [
  { kind: 'tri', color: TE_C, text: 'Te' }, { kind: 'dot', color: TI_C, text: 'Ti' }] });
const legNe = (dx, dy) => ({ side: 'right', dx, dy, w: 135, h: 62, items: [
  { kind: 'dot', color: NE_C, text: 'ne' }] });
const nbiItem = { line: NBI_LINE, color: NBI_MARK, textColor: '#d02030', text: 'NBI' };
const echItem = { line: ECH_LINE, color: ECH_MARK, textColor: '#2030c8', text: 'ECH' };

makeProfile('p1', { l: 199, t: 178, r: 779, b: 790 }, {
  title: 't=4.29s (bal.-NBI and ECH)', tMax: 5, te: p1Te, ti: p1Ti, ne: p1Ne,
  lines: p1Lines, lineColors: ['#7c7cd0', '#7c7cd0', '#8a8ad8', '#7c7cd0', '#7c7cd0'], lineWidths: [3, 3, 3, 3, 3],
  legends: [legTiTe(40, 28), legNe(30, 25)]
});
makeProfile('p2', { l: 1045, t: 185, r: 1620, b: 790 }, {
  title: 't=4.49s (bal.-NBI)', tMax: 5, te: p2Te, ti: p2Ti, ne: p2Ne,
  lines: p2Lines, lineColors: ['#9c9cc4', '#3434c8'], lineWidths: [8, 5],
  legends: [legTiTe(32, 29), legNe(14, 45)]
});
makeProfile('p5', { l: 200, t: 1865, r: 776, b: 2430 }, {
  title: 't=4.24s (Co-NBI)', tMax: 10, te: p5Te, ti: p5Ti, ne: p5Ne,
  lines: p5Lines, lineColors: ['#10108a', '#b4b4e4'], lineWidths: [14, 12],
  legends: [legTeTi(29, 13), legNe(22, 20)],
  notes: [
    { parts: [['T', 'i'], ['i', 'isub']], x: -0.28, y: 6.4, color: '#e04040' },
    { parts: [['T', 'i'], ['e', 'isub']], x: 0.06, y: 4.6, color: '#3040d0' },
    { parts: [['n', 'i'], ['e', 'isub']], x: 0.16, y: 2.1, color: '#8a8a8a' }
  ]
});
makeProfile('p6', { l: 1038, t: 1867, r: 1606, b: 2432 }, {
  title: 't=4.74s (Co-NBI and ECH)', tMax: 10, te: p6Te, ti: p6Ti, ne: p6Ne,
  lines: p6Lines, lineColors: ['#1a1a90', '#1a1a90'], lineWidths: [4, 4],
  legends: [legTeTi(14, 20), legNe(19, 25)], frameColor: '#1a1a70'
});

makeForce('p3', { l: 196, t: 991, r: 779, b: 1571 }, {
  title: 't=4.29s (bal.-NBI and ECH)', yMax: 0.1,
  series: [
    { line: p3NbiLine, marks: p3NbiMarks, lineColor: NBI_LINE, markColor: NBI_MARK },
    { line: p3EchLine, marks: p3EchMarks, lineColor: ECH_LINE, markColor: ECH_MARK }
  ],
  legend: { side: 'right', dx: 47, dy: 20, w: 165, h: 112, items: [nbiItem, echItem] }
});
makeForce('p4', { l: 1044, t: 988, r: 1628, b: 1566 }, {
  title: 't=4.49s (bal.-NBI)', yMax: 0.1,
  series: [{ line: p4NbiLine, marks: p4NbiMarks, lineColor: NBI_LINE, markColor: NBI_MARK }],
  legend: { side: 'right', dx: 38, dy: 32, w: 162, h: 59, items: [nbiItem] }
});
makeForce('p7', { l: 195, t: 2640, r: 773, b: 3220 }, {
  title: 't=4.24s (Co-NBI)', yMax: 0.15,
  series: [{ line: p7NbiLine, marks: p7NbiMarks, lineColor: NBI_LINE, markColor: NBI_MARK }],
  legend: { side: 'right', dx: 98, dy: 82, w: 151, h: 60, items: [nbiItem] }
});
makeForce('p8', { l: 1037, t: 2639, r: 1614, b: 3217 }, {
  title: 't=4.74s (Co-NBI and ECH)', yMax: 0.15,
  series: [
    { line: p8NbiLine, marks: p8NbiMarks, lineColor: NBI_LINE, markColor: NBI_MARK },
    { line: p8EchLine, marks: p8EchMarks, lineColor: ECH_LINE, markColor: ECH_MARK }
  ],
  legend: { side: 'right', dx: 101, dy: 102, w: 165, h: 104, items: [nbiItem, echItem] }
});
</script>
</body>
</html>
